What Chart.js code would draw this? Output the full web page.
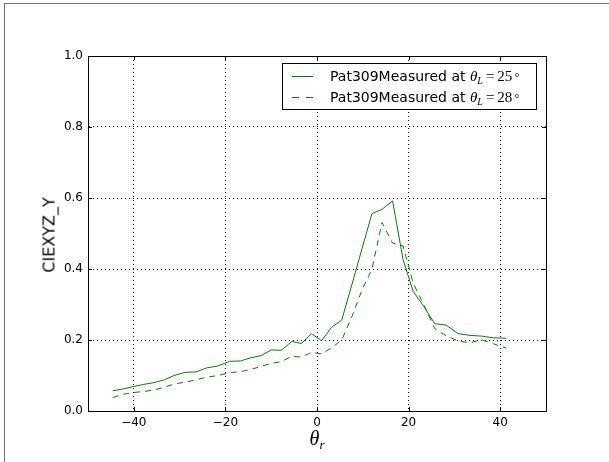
<!DOCTYPE html>
<html>
<head>
<meta charset="utf-8">
<script src="https://cdn.jsdelivr.net/npm/chart.js@4.4.1/dist/chart.umd.min.js"></script>
<style>
  html, body { margin: 0; padding: 0; background: #fff; }
  #wrap { position: relative; width: 609px; height: 462px; overflow: hidden; }
  #chart { position: absolute; left: 0; top: 0; }
  .frame-l { position: absolute; left: 4px; top: 3px; width: 1px; height: 470px; background: #777; }
  .frame-t { position: absolute; left: 4px; top: 3px; width: 620px; height: 1px; background: #777; }
  #legend {
    position: absolute; left: 282px; top: 63px; width: 255px; height: 47px;
    border: 1px solid #000; background: #fff; box-sizing: border-box;
    font-family: "DejaVu Sans", sans-serif; font-size: 14px; color: #000;
  }
  .row { position: absolute; left: 0; height: 20px; line-height: 20px; white-space: nowrap; }
  .swatch { position: absolute; left: 9px; top: 10px; width: 21px; height: 1px; background: #008000; }
  .swatch.dash { background: repeating-linear-gradient(to right, #008000 0 7px, transparent 7px 14px); }
  .label { position: absolute; left: 47px; top: 0; }
  .math { font-family: "Liberation Serif", serif; font-size: 15px; }
  .math sub { font-size: 10px; vertical-align: -3px; }
  .math .deg { font-size: 12px; margin-left: 2px; }
  #ytitle {
    position: absolute; left: 49px; top: 235px; transform: translate(-50%, -50%) rotate(-90deg);
    font-family: "DejaVu Sans", sans-serif; font-size: 16px; white-space: nowrap;
  }
  #xtitle {
    position: absolute; left: 317px; top: 440px; transform: translate(-50%, -50%);
    font-family: "Liberation Serif", serif; font-size: 20px; font-style: italic; white-space: nowrap;
  }
  #xtitle sub { font-size: 13px; vertical-align: -4px; }
</style>
</head>
<body>
<div id="wrap">
  <canvas id="chart" width="609" height="462"></canvas>
  <div class="frame-l"></div>
  <div class="frame-t"></div>
  <div id="legend">
    <div class="row" style="top: 2px;"><span class="swatch"></span><span class="label">Pat309Measured at <span class="math"><i>θ</i><sub><i>L</i></sub>&#8201;=&#8201;25<span class="deg">°</span></span></span></div>
    <div class="row" style="top: 23px;"><span class="swatch dash"></span><span class="label">Pat309Measured at <span class="math"><i>θ</i><sub><i>L</i></sub>&#8201;=&#8201;28<span class="deg">°</span></span></span></div>
  </div>
  <div id="ytitle">CIEXYZ_Y</div>
  <div id="xtitle">θ<sub>r</sub></div>
</div>
<script>
// reflection angle theta_r (degrees)
const thetaR = [
  -44.6, -42.3, -40.1, -37.8, -35.6, -33.3, -31.0, -28.7, -26.4, -24.2,
  -21.6, -19.1, -16.7, -14.4, -12.2, -10.0, -7.8, -5.5, -3.4, -1.2,
  1.0, 3.2, 5.4, 7.6, 9.8, 12.0, 14.2, 16.5, 18.8, 21.0,
  23.3, 25.7, 28.2, 30.8, 33.4, 35.9, 38.6, 41.3
];

// CIEXYZ Y, measured at theta_L = 25
const measured25 = [
  0.057, 0.062, 0.069, 0.075, 0.080, 0.088, 0.101, 0.109, 0.110, 0.121,
  0.127, 0.140, 0.141, 0.150, 0.156, 0.172, 0.171, 0.196, 0.190, 0.218,
  0.198, 0.236, 0.256, 0.355, 0.456, 0.556, 0.568, 0.592, 0.426, 0.337,
  0.295, 0.246, 0.242, 0.218, 0.213, 0.211, 0.206, 0.205
];

// CIEXYZ Y, measured at theta_L = 28
const measured28 = [
  0.038, 0.047, 0.052, 0.055, 0.059, 0.067, 0.077, 0.081, 0.088, 0.095,
  0.100, 0.108, 0.111, 0.117, 0.126, 0.134, 0.139, 0.154, 0.152, 0.165,
  0.161, 0.178, 0.200, 0.265, 0.340, 0.400, 0.531, 0.473, 0.465, 0.360,
  0.300, 0.232, 0.212, 0.197, 0.192, 0.201, 0.189, 0.177
];

const xTicks = [-40, -20, 0, 20, 40];
const yTicks = [0, 0.2, 0.4, 0.6, 0.8, 1.0];

const green = "#008000";

function toPoints(ys) {
  return thetaR.map((x, i) => ({ x: x, y: ys[i] }));
}

// matplotlib-style inward ticks on all four sides, plus top/right frame
const frameTicks = {
  id: "frameTicks",
  afterDraw(chart) {
    const { ctx, chartArea: a, scales } = chart;
    ctx.save();
    ctx.strokeStyle = "#000";
    ctx.lineWidth = 1;
    ctx.strokeRect(Math.round(a.left) + 0.5, Math.round(a.top) + 0.5,
      Math.round(a.right - a.left), Math.round(a.bottom - a.top));
    ctx.beginPath();
    xTicks.forEach(v => {
      const px = Math.round(scales.x.getPixelForValue(v)) + 0.5;
      ctx.moveTo(px, a.bottom); ctx.lineTo(px, a.bottom - 4);
      ctx.moveTo(px, a.top); ctx.lineTo(px, a.top + 4);
    });
    yTicks.forEach(v => {
      const py = Math.round(scales.y.getPixelForValue(v)) + 0.5;
      ctx.moveTo(a.left, py); ctx.lineTo(a.left + 4, py);
      ctx.moveTo(a.right, py); ctx.lineTo(a.right - 4, py);
    });
    ctx.stroke();
    ctx.restore();
  }
};

new Chart(document.getElementById("chart"), {
  type: "line",
  data: {
    datasets: [
      {
        label: "Pat309Measured at θL = 25°",
        data: toPoints(measured25),
        borderColor: green,
        borderWidth: 1,
        pointRadius: 0,
        tension: 0,
        fill: false
      },
      {
        label: "Pat309Measured at θL = 28°",
        data: toPoints(measured28),
        borderColor: green,
        borderWidth: 1,
        borderDash: [6, 5],
        pointRadius: 0,
        tension: 0,
        fill: false
      }
    ]
  },
  options: {
    responsive: false,
    devicePixelRatio: 1,
    animation: false,
    layout: { padding: { left: 0, top: 56, right: 63, bottom: 0 } },
    plugins: {
      legend: { display: false },
      tooltip: { enabled: false }
    },
    scales: {
      x: {
        type: "linear",
        min: -50,
        max: 50,
        afterBuildTicks(scale) {
          scale.ticks = xTicks.map(v => ({ value: v }));
        },
        afterFit(scale) { scale.height = 51; },
        ticks: {
          color: "#000",
          padding: 5,
          maxRotation: 0,
          font: { family: "DejaVu Sans", size: 12 },
          callback: v => String(v).replace("-", "\u2212")
        },
        grid: { color: "#000", lineWidth: 1, drawTicks: false },
        border: { display: true, color: "#000", width: 1, dash: [1, 3] }
      },
      y: {
        min: 0,
        max: 1,
        afterBuildTicks(scale) {
          scale.ticks = yTicks.map(v => ({ value: v }));
        },
        afterFit(scale) { scale.width = 88; },
        ticks: {
          color: "#000",
          padding: 5,
          font: { family: "DejaVu Sans", size: 12 },
          callback: v => Number(v).toFixed(1)
        },
        grid: { color: "#000", lineWidth: 1, drawTicks: false },
        border: { display: true, color: "#000", width: 1, dash: [1, 3] }
      }
    }
  },
  plugins: [frameTicks]
});
</script>
</body>
</html>
